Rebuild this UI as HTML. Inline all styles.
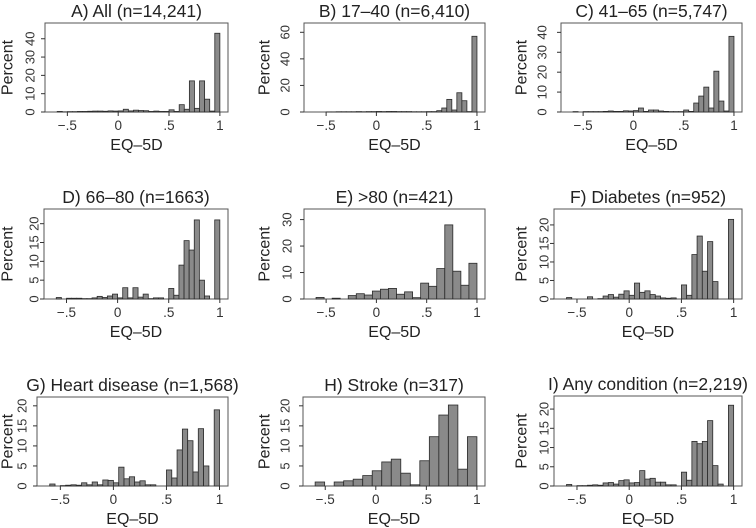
<!DOCTYPE html>
<html><head><meta charset="utf-8"><style>
html,body{margin:0;padding:0;background:#fff;}
svg{display:block;font-family:"Liberation Sans",Arial,sans-serif;}
</style></head><body>
<svg id="chart" width="756" height="528" viewBox="0 0 756 528" xmlns="http://www.w3.org/2000/svg"></svg>
<script>
const titles = ["A) All (n=14,241)","B) 17\u201340 (n=6,410)","C) 41\u201365 (n=5,747)","D) 66\u201380 (n=1663)","E) >80 (n=421)","F) Diabetes (n=952)","G) Heart disease (n=1,568)","H) Stroke (n=317)","I) Any condition (n=2,219)"];
const binWidths = [0.05,0.05,0.05,0.05,0.08,0.05,0.05,1.6/17,0.05];
const valsA = [0.3,0.1,0.2,0.2,0.3,0.3,0.4,0.5,0.5,0.4,0.6,0.5,0.6,1.5,0.6,1,0.8,0.7,0.3,0.5,0.3,0.3,1.2,0.3,4,1.5,17,2,17,7,0.5,43];
const valsB = [0,0,0.1,0.1,0.2,0.2,0.2,0.2,0.3,0.2,0.3,0.3,0.4,0.3,0.4,0.4,0.3,0.3,0.3,0.2,0.2,0.2,0.3,0.3,1,3,9.5,1.5,14.5,8.5,0.3,57];
const valsC = [0.2,0,0.2,0.2,0.2,0.2,0.3,0.5,0.3,0.3,0.6,0.5,0.7,2,0.3,1,1,0.5,0.3,0.2,0.2,0.2,1,0.3,4.5,8,12.5,2,20.5,5.5,0.5,38];
const valsD = [0.4,0,0.2,0.2,0.2,0.1,0.1,0.3,0.7,0.4,0.8,1.3,0.3,3,0.3,3,0.5,1.3,0.1,0.3,0.3,0,2.8,1,9,15.5,13,21,5,0.8,0,21];
const valsE = [0.6,0,0.3,0,1.3,2,1.5,3,3.7,4,1.8,2.7,0.5,6,4.8,11.5,28,10.5,5.2,13.5];
const valsF = [0.4,0,0,0,0.6,0,0.1,0.8,1.2,0.5,1.3,2.2,1,4.3,1.8,2.2,1.2,0.8,0.3,0.2,0.3,0,3.8,1,12,17,7.5,15.5,4.7,0,0,21.5];
const valsG = [0.5,0,0.1,0.2,0.3,0.2,0.8,0.3,1,0.3,1.5,1.4,0.8,4.7,1.8,2.3,1,1.3,0.3,0.3,0,0,4,2,9,14.2,11.3,3.5,14.3,5,0,19];
const valsH = [1,0,1,1.3,1.7,2.6,3.8,6,6.7,3.2,0.3,6.3,12.3,17.7,20.2,4.2,12.3];
const valsI = [0.4,0,0.1,0.1,0.2,0.3,0.2,0.8,0.9,0.5,1.4,1.6,0.8,0.9,4,1.8,2,1,1,0.3,0.3,0,3.6,1.5,11.6,11,11.6,17,5.3,0.5,0,21];
const allVals = [valsA,valsB,valsC,valsD,valsE,valsF,valsG,valsH,valsI];
const yTicksList = [[0,10,20,30,40],[0,20,40,60],[0,10,20,30,40],[0,5,10,15,20],[0,10,20,30],[0,5,10,15,20],[0,5,10,15,20],[0,5,10,15,20],[0,5,10,15,20]];
const yMaxes = [48.6,67,44.7,23.9,34,24.3,22.2,22.2,23.4];
const xTicks = [-0.5,0,0.5,1];
const xTickLabels = ["\u2212.5","0",".5","1"];

const geo = [
 {L:45,R:228,T:23,B:112,pl:8,tl:30},
 {L:304,R:485,T:23,B:112,pl:265,tl:285},
 {L:561,R:742,T:23,B:112,pl:522,tl:542},
 {L:44,R:228,T:209,B:299,pl:8,tl:34},
 {L:304,R:485,T:209,B:299,pl:265,tl:287},
 {L:554,R:742,T:209,B:299,pl:522,tl:544},
 {L:37,R:228,T:397,B:486,pl:8,tl:22},
 {L:303,R:485,T:397,B:486,pl:265,tl:285},
 {L:554,R:742,T:396,B:486,pl:522,tl:544}
];
const NS="http://www.w3.org/2000/svg";
const svg=document.getElementById('chart');
function mk(tag,attrs,parent){const e=document.createElementNS(NS,tag);for(const k in attrs)e.setAttribute(k,attrs[k]);parent.appendChild(e);return e;}
const X0=-0.72,X1=1.08;
for(let p=0;p<9;p++){
  const g=geo[p];
  const xs=v=>g.L+(v-X0)/(X1-X0)*(g.R-g.L);
  const ys=v=>g.B-v/yMaxes[p]*(g.B-g.T);
  const grp=mk('g',{},svg);
  
  
  const t=mk('text',{x:(g.L+g.R)/2,y:g.T-6,'text-anchor':'middle','font-size':17.5,fill:'#222'},grp);
  t.textContent=titles[p];
  
  
  const box=mk('rect',{x:g.L,y:g.T,width:g.R-g.L,height:g.B-g.T,fill:'none',stroke:'#555','stroke-width':1},grp);
  
  
  const vals=allVals[p], w=binWidths[p];
  vals.forEach((v,i)=>{
    if(v<=0)return;
    const x0=xs(-0.6+i*w), x1=xs(-0.6+(i+1)*w);
    const r=mk('rect',{x:x0,y:ys(v),width:x1-x0,height:g.B-ys(v),fill:'#8a8a8a',stroke:'#2a2a2a','stroke-width':0.8},grp);
    
    
  });
  xTicks.forEach((v,i)=>{
    mk('line',{x1:xs(v),x2:xs(v),y1:g.B,y2:g.B+4,stroke:'#333'},grp);
    const tl=mk('text',{x:xs(v),y:g.B+18,'text-anchor':'middle','font-size':13.5,fill:'#333'},grp);
    tl.textContent=xTickLabels[i];
    
    
  });
  yTicksList[p].forEach(v=>{
    mk('line',{x1:g.L-4,x2:g.L,y1:ys(v),y2:ys(v),stroke:'#333'},grp);
    const tl=mk('text',{x:g.tl,y:ys(v),'text-anchor':'middle','font-size':13,fill:'#333','dominant-baseline':'central',transform:`rotate(-90 ${g.tl} ${ys(v)})`},grp);
    tl.textContent=String(v);
    
    
  });
  const xt=mk('text',{x:(g.L+g.R)/2,y:g.B+38,'text-anchor':'middle','font-size':16,fill:'#222'},grp);
  xt.textContent='EQ\u20135D';
  
  
  const ym=(g.T+g.B)/2;
  const yt=mk('text',{x:g.pl,y:ym,'text-anchor':'middle','font-size':16,fill:'#222','dominant-baseline':'central',transform:`rotate(-90 ${g.pl} ${ym})`},grp);
  yt.textContent='Percent';
  
  
}
</script>
</body></html>
